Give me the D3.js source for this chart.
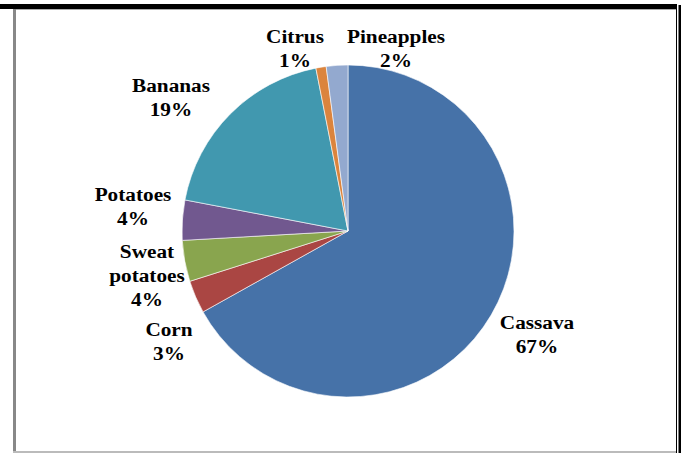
<!DOCTYPE html>
<html>
<head>
<meta charset="utf-8">
<script src="https://cdn.jsdelivr.net/npm/d3@7"></script>
<style>
  html, body { margin: 0; padding: 0; background: #fff; }
  svg { display: block; }
</style>
</head>
<body>
<svg id="chart" width="681" height="453"></svg>
<script>
// ---- data ----
const categories = ["Cassava", "Corn", "Sweat potatoes", "Potatoes", "Bananas", "Citrus", "Pineapples"];
const values = [66.9, 3.2, 4.0, 3.9, 18.9, 1.0, 2.1];
const colors = ["#4672A8", "#AA4643", "#89A54E", "#71588F", "#4198AF", "#DB843D", "#93A9CF"];
// label lines (category name split over lines) and label anchor positions
const labelLines = [["Cassava"], ["Corn"], ["Sweat", "potatoes"], ["Potatoes"], ["Bananas"], ["Citrus"], ["Pineapples"]];
const labelPos = [[537, 329], [169, 336], [147, 258], [133, 201], [171, 92], [295, 43], [396, 43]];

const svg = d3.select("#chart");

// frame
svg.append("rect").attr("x", 0).attr("y", 4).attr("width", 677).attr("height", 5).attr("fill", "#000");
svg.append("rect").attr("x", 15).attr("y", 9).attr("width", 661).attr("height", 1).attr("fill", "#aaa");
svg.append("rect").attr("x", 13).attr("y", 9).attr("width", 3).attr("height", 444).attr("fill", "#888");
svg.append("rect").attr("x", 13).attr("y", 451).attr("width", 664).attr("height", 2).attr("fill", "#bbb");
svg.append("rect").attr("x", 676).attr("y", 5).attr("width", 1).attr("height", 448).attr("fill", "#000");
svg.append("rect").attr("x", 678.5).attr("y", 5).attr("width", 2.5).attr("height", 448).attr("fill", "#000");

// pie
const cx = 348, cy = 231, r = 166;
const total = d3.sum(values);
const data = categories.map((c, i) => ({ name: c, value: values[i], i }));
const pie = d3.pie().value(d => d.value).sort(null).startAngle(0).endAngle(2 * Math.PI);
const arc = d3.arc().innerRadius(0).outerRadius(r);

const g = svg.append("g").attr("transform", `translate(${cx},${cy})`);
g.selectAll("path").data(pie(data)).join("path")
  .attr("d", arc)
  .attr("fill", d => colors[d.data.i])
  .attr("stroke", "#fff")
  .attr("stroke-width", 0.6);

// labels
const fmt = d3.format(".0%");
const lg = svg.append("g");
data.forEach((d, i) => {
  const lines = labelLines[i].concat([fmt(d.value / total)]);
  const [lx, ly] = labelPos[i];
  const t = lg.append("text")
    .attr("transform", `translate(${lx},${ly}) scale(1.12,1)`)
    .attr("text-anchor", "middle")
    .attr("font-family", "'Liberation Serif', 'Times New Roman', serif")
    .attr("font-weight", "bold")
    .attr("font-size", 19)
    .attr("fill", "#000");
  lines.forEach((ln, k) => {
    t.append("tspan").attr("x", 0).attr("y", k * 24).text(ln);
  });
});
</script>
</body>
</html>
